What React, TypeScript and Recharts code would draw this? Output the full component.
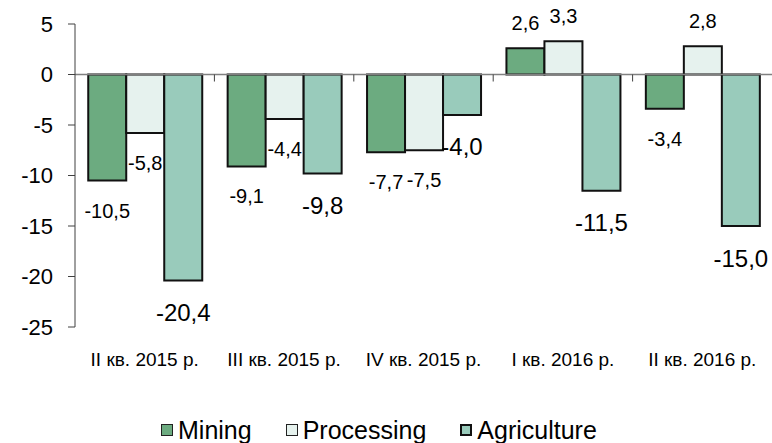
import { Bar, BarChart, LabelList, Legend, ReferenceLine, XAxis, YAxis } from "recharts";

const quarters = ["II кв. 2015 р.", "III кв. 2015 р.", "IV кв. 2015 р.", "I кв. 2016 р.", "II кв. 2016 р."];
const mining = [-10.5, -9.1, -7.7, 2.6, -3.4];
const processing = [-5.8, -4.4, -7.5, 3.3, 2.8];
const agriculture = [-20.4, -9.8, -4.0, -11.5, -15.0];
const yTicks = [-25, -20, -15, -10, -5, 0, 5];

const series = [
  { key: "mining", name: "Mining", fill: "#6cab80", labelSize: 20, below: 30, box: "1px solid #222" },
  { key: "processing", name: "Processing", fill: "#e6f2ee", labelSize: 20, below: 30, box: "1px solid #222" },
  { key: "agriculture", name: "Agriculture", fill: "#99cbbb", labelSize: 24, below: 32, box: "2px solid #111" },
];

const data = quarters.map((quarter, i) => ({
  quarter,
  mining: mining[i],
  processing: processing[i],
  agriculture: agriculture[i],
}));

const W = 772;
const H = 443;
const TOP = 24;
const AXIS_W = 75;
const X_AXIS_H = 76;
const LEGEND_H = 40;
const PLOT_H = H - TOP - X_AXIS_H - LEGEND_H;
const BAND = (W - AXIS_W) / quarters.length;
const ZERO_Y = TOP + (PLOT_H * 5) / 30;
const font = '"Liberation Sans", Arial, sans-serif';

const fmt = (v: number) => v.toFixed(1).replace(".", ",");

const makeLabel = (fontSize: number, below: number) => (props: any) => {
  const { x, y, width, height, value } = props;
  const top = Math.min(y, y + height);
  const bottom = Math.max(y, y + height);
  const cy = value < 0 ? bottom + below : top - 25;
  return (
    <text x={x + width / 2} y={cy} textAnchor="middle" dominantBaseline="central" fontSize={fontSize} fill="#000" fontFamily={font}>
      {fmt(value)}
    </text>
  );
};

function QuarterTick(props: any) {
  const { x, y, payload, index } = props;
  return (
    <g>
      {index < quarters.length - 1 && (
        <line x1={x + BAND / 2} x2={x + BAND / 2} y1={ZERO_Y} y2={ZERO_Y + 7} stroke="#404040" />
      )}
      <text x={x} y={y} dy="0.71em" textAnchor="middle" fontSize={19} fill="#000" fontFamily={font}>
        {payload.value}
      </text>
    </g>
  );
}

function LegendBox() {
  return (
    <div style={{ display: "flex", alignItems: "center", fontFamily: font, fontSize: 25, lineHeight: "26px", color: "#000" }}>
      {series.map((s) => (
        <div key={s.key} style={{ display: "flex", alignItems: "center", marginRight: 34 }}>
          <span
            style={{
              width: 12,
              height: 12,
              boxSizing: "border-box",
              background: s.fill,
              border: s.box,
              marginRight: 5,
              display: "inline-block",
            }}
          />
          <span>{s.name}</span>
        </div>
      ))}
    </div>
  );
}

export default function App() {
  return (
    <div style={{ position: "absolute", left: 0, top: 0, width: W, height: H, background: "#fff" }}>
      <BarChart
        width={W}
        height={H}
        data={data}
        margin={{ top: TOP, right: 0, bottom: 0, left: 0 }}
        barCategoryGap="9.5%"
        barGap={0}
      >
        <YAxis
          width={AXIS_W}
          domain={[-25, 5]}
          ticks={yTicks}
          interval={0}
          tickSize={7}
          tickMargin={15}
          axisLine={{ stroke: "#404040" }}
          tickLine={{ stroke: "#404040" }}
          tick={{ fontSize: 22, fill: "#000", fontFamily: font }}
        />
        <XAxis
          dataKey="quarter"
          height={X_AXIS_H}
          axisLine={false}
          tickLine={false}
          interval={0}
          tickSize={6}
          tickMargin={20}
          tick={<QuarterTick />}
        />
        <ReferenceLine y={0} stroke="#808080" strokeWidth={1.5} />
        {series.map((s) => (
          <Bar key={s.key} dataKey={s.key} name={s.name} fill={s.fill} stroke="#111" strokeWidth={2} isAnimationActive={false}>
            <LabelList dataKey={s.key} content={makeLabel(s.labelSize, s.below)} />
          </Bar>
        ))}
        <Legend
          verticalAlign="bottom"
          height={LEGEND_H}
          content={<LegendBox />}
          wrapperStyle={{ left: 161, top: 417, bottom: "auto", width: "auto" }}
        />
      </BarChart>
    </div>
  );
}
